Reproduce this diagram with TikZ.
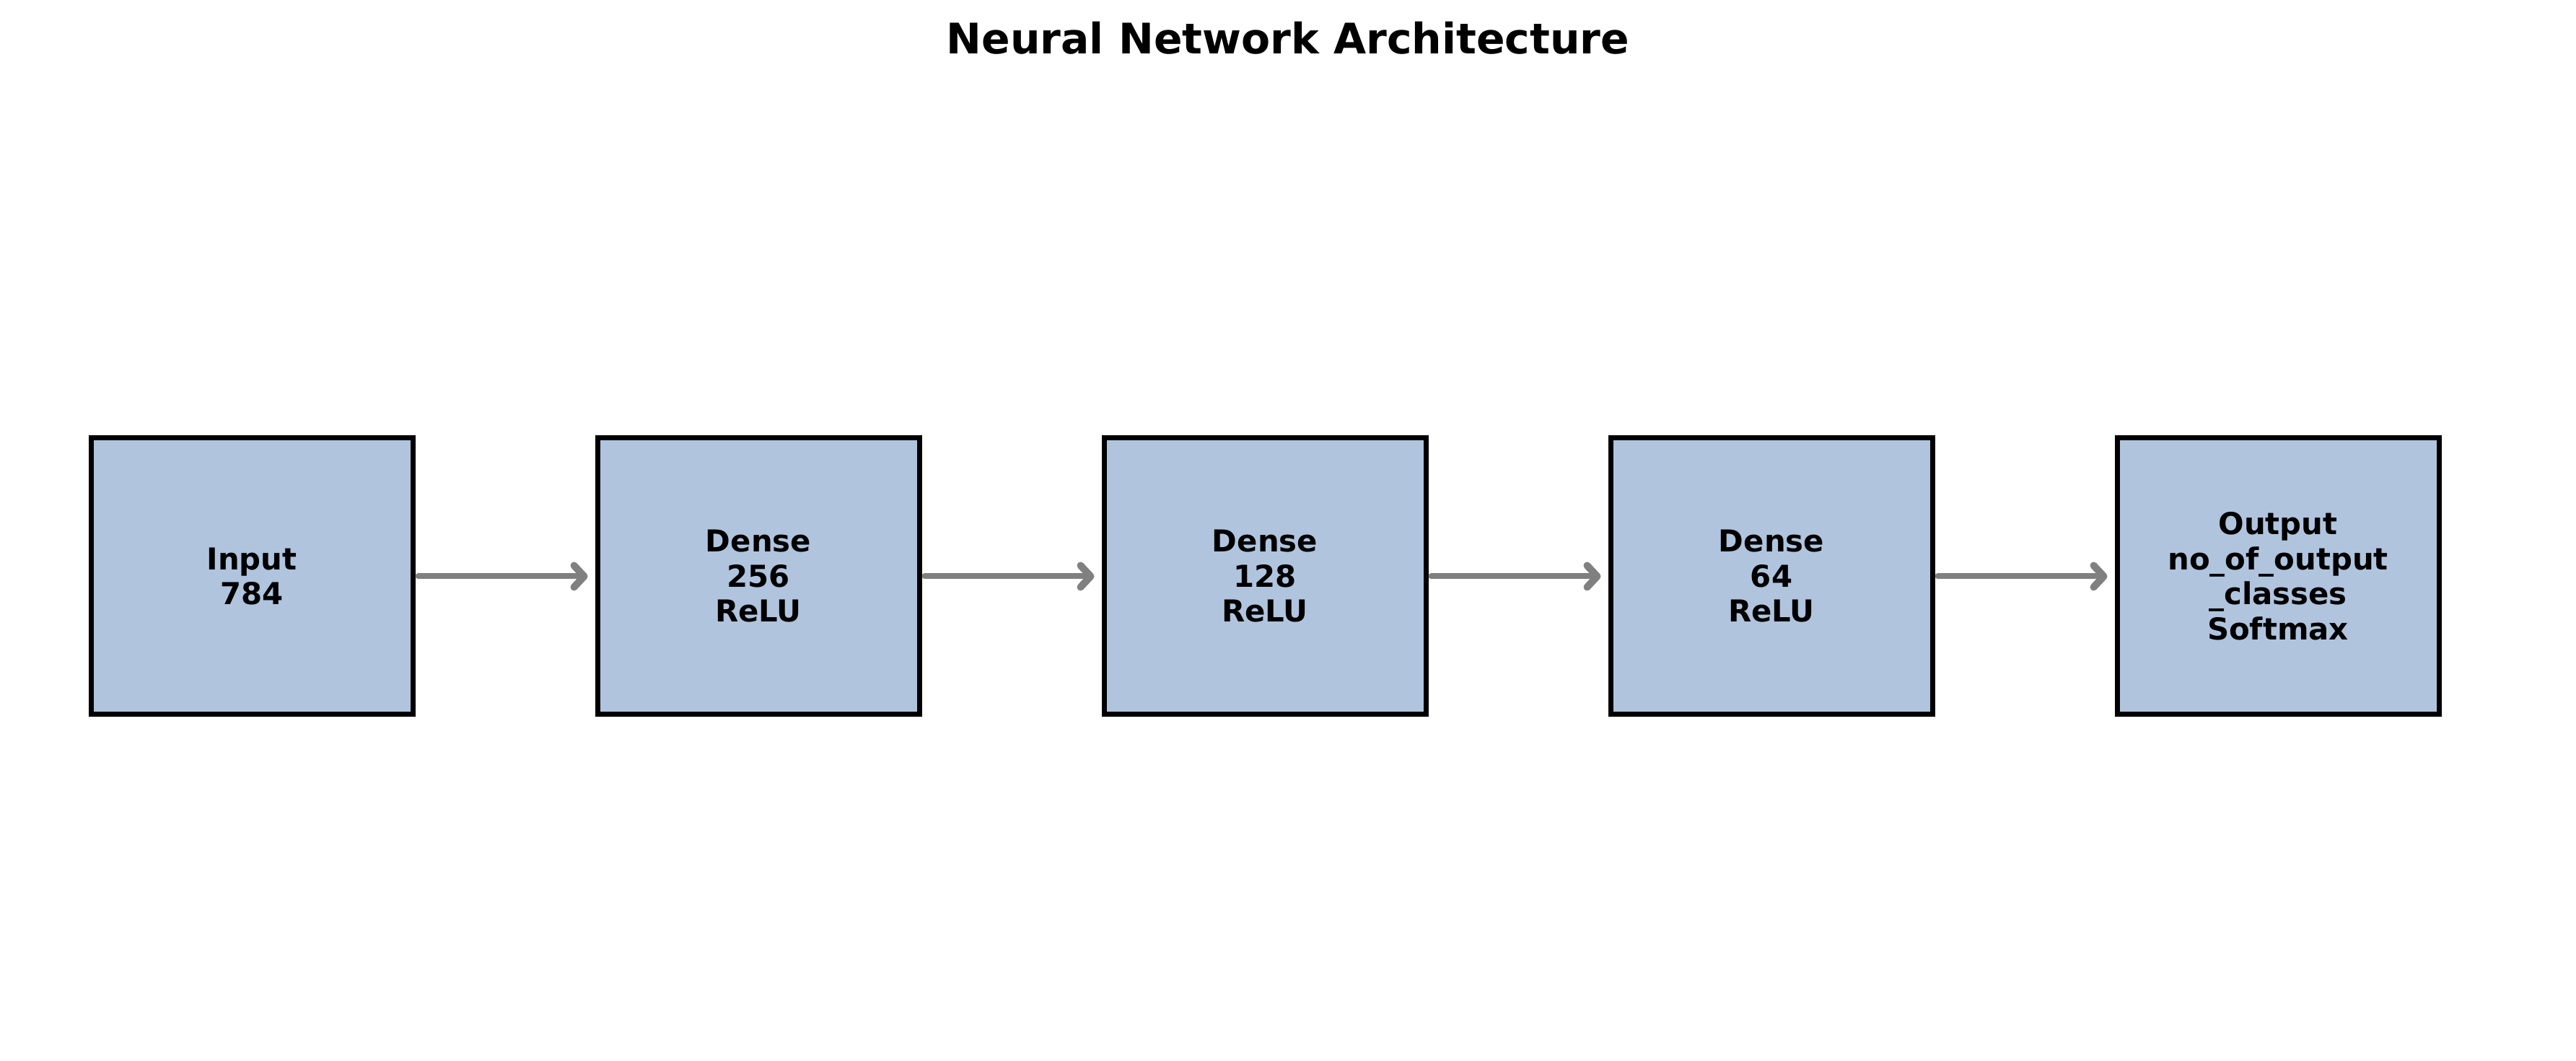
\documentclass[tikz,border=0pt]{standalone}
\usepackage{fontspec}
\setmainfont{DejaVu Sans}
\usepackage{tikz}
\usetikzlibrary{positioning}
\usetikzlibrary{arrows.meta}
\definecolor{layerblue}{RGB}{176,196,222}
\tikzset{
    layer/.style = {rectangle, line width=0.07cm, draw=black, align=center, fill=layerblue,
        minimum width=4.46cm, minimum height=3.83cm, inner sep=0pt,
        font=\bfseries\fontsize{11.9}{13.8}\selectfont},
    title/.style = {anchor=base, font=\bfseries\fontsize{16.6}{20}\selectfont},
    edgen/.style = {-{Straight Barb[length=0.14cm,width=0.3cm,round,line width=0.1cm]}, line width=0.08cm,
        gray, line cap=round, shorten <=0.04cm, shorten >=0.1cm}
}
\begin{document}
\begin{tikzpicture}
\useasboundingbox (0,0) rectangle (35.70,14.70);
\node[title] at (17.85, 13.95) (head) {Neural Network Architecture};

\node[layer] at ( 3.49, 6.715) (in) {Input\\784};
\node[layer] at (10.51, 6.715) (d1) {Dense\\256\\ReLU};
\node[layer] at (17.53, 6.715) (d2) {Dense\\128\\ReLU};
\node[layer] at (24.55, 6.715) (d3) {Dense\\64\\ReLU};
\node[layer] at (31.57, 6.715) (out) {Output\\no\_of\_output\\\_classes\\Softmax};

\draw[edgen] (in) -- (d1);
\draw[edgen] (d1) -- (d2);
\draw[edgen] (d2) -- (d3);
\draw[edgen] (d3) -- (out);

\end{tikzpicture}
\end{document}
